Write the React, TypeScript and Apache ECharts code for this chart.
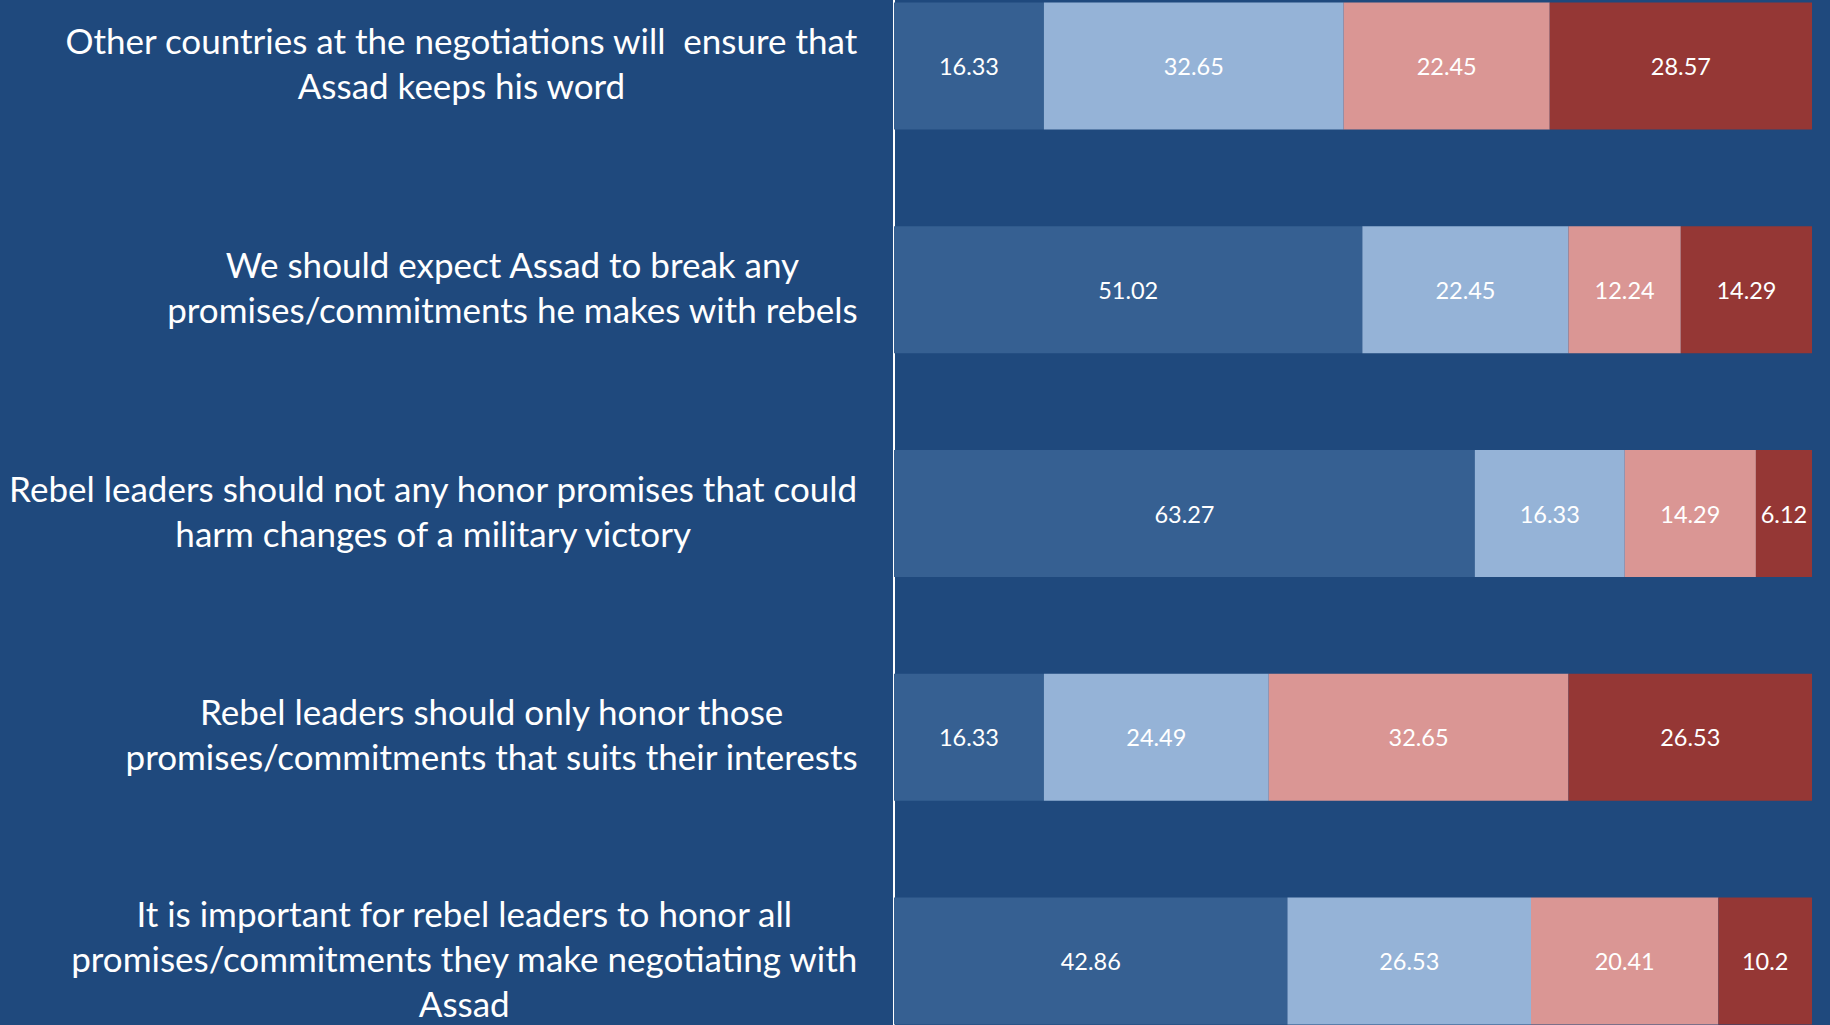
import React, { useEffect, useRef } from "react";
import * as echarts from "echarts";

const categories: string[] = [
  "Other countries at the negotiations will  ensure that\nAssad keeps his word",
  "We should expect Assad to break any\npromises/commitments he makes with rebels",
  "Rebel leaders should not any honor promises that could\nharm changes of a military victory",
  "Rebel leaders should only honor those\npromises/commitments that suits their interests",
  "It is important for rebel leaders to honor all\npromises/commitments they make negotiating with\nAssad",
];

const seriesA: number[] = [16.33, 51.02, 63.27, 16.33, 42.86];
const seriesB: number[] = [32.65, 22.45, 16.33, 24.49, 26.53];
const seriesC: number[] = [22.45, 12.24, 14.29, 32.65, 20.41];
const seriesD: number[] = [28.57, 14.29, 6.12, 26.53, 10.2];

const seriesColors: string[] = ["#366092", "#95B3D7", "#DA9694", "#953735"];

export default function App() {
  const ref = useRef<HTMLDivElement>(null);
  useEffect(() => {
    document.body.style.margin = "0";
    document.body.style.overflow = "hidden";
    document.body.style.background = "#1F497D";
    const chart = echarts.init(ref.current!, null, { renderer: "svg" });
    const allSeries = [seriesA, seriesB, seriesC, seriesD];
    chart.setOption({
      animation: false,
      backgroundColor: "#1F497D",
      grid: { left: 894, right: 18, top: 0, bottom: 0, containLabel: false },
      xAxis: { type: "value", min: 0, max: 100, show: false },
      yAxis: {
        type: "category",
        data: categories,
        inverse: true,
        axisLine: { show: true, lineStyle: { color: "#FFFFFF", width: 2 } },
        axisTick: { show: false },
        splitLine: { show: false },
        axisLabel: {
          margin: 36,
          color: "#FFFFFF",
          fontFamily: "Lato",
          fontSize: 35,
          lineHeight: 45,
          align: "right",
          padding: [0, 0, 7, 0],
          formatter: (v: string) =>
            v.split("\n").map((l) => "{c|" + l + "}").join("\n"),
          rich: {
            c: {
              align: "center",
              color: "#FFFFFF",
              fontFamily: "Lato",
              fontSize: 35,
              lineHeight: 45,
            },
          },
        },
      },
      series: allSeries.map((d, i) => ({
        type: "bar",
        stack: "total",
        data: d,
        barWidth: 127,
        itemStyle: { color: seriesColors[i] },
        label: {
          show: true,
          position: "inside",
          color: "#FFFFFF",
          fontFamily: "Lato",
          fontSize: 23.5,
        },
      })),
    });
    return () => chart.dispose();
  }, []);
  return (
    <div
      ref={ref}
      style={{ position: "fixed", left: 0, top: -46.3, width: 1830, height: 1118.6 }}
    />
  );
}
